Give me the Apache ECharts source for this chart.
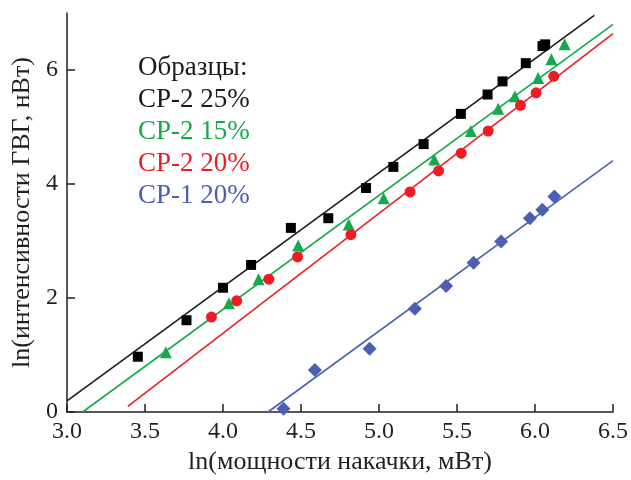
<!DOCTYPE html>
<html><head><meta charset="utf-8">
<script src="https://cdn.jsdelivr.net/npm/echarts@6/dist/echarts.min.js"></script>
<style>html,body{margin:0;padding:0;background:#fff}#c{width:631px;height:480px}</style>
</head><body><div id="c"></div>
<script>
const xTicks = [3.0, 3.5, 4.0, 4.5, 5.0, 5.5, 6.0, 6.5];
const yTicks = [0, 2, 4, 6];
const legendTitle = 'Образцы:';
const seriesNames = ['CP-2 25%', 'CP-2 15%', 'CP-2 20%', 'CP-1 20%'];
const seriesColors = ['#1a1a1a', '#17a84b', '#ee1d25', '#4a60b2'];

const black = [[3.454,0.97],[3.766,1.61],[4.00,2.18],[4.18,2.58],[4.435,3.23],[4.675,3.40],[4.917,3.93],[5.092,4.30],[5.286,4.70],[5.525,5.23],[5.696,5.57],[5.792,5.80],[5.941,6.12],[6.048,6.42],[6.065,6.45]];
const green = [[3.634,1.05],[4.038,1.91],[4.228,2.33],[4.482,2.92],[4.806,3.29],[5.03,3.75],[5.354,4.43],[5.589,4.93],[5.764,5.32],[5.871,5.54],[6.02,5.86],[6.105,6.19],[6.19,6.45]];
const red = [[3.926,1.665],[4.088,1.95],[4.294,2.33],[4.478,2.72],[4.82,3.11],[5.199,3.86],[5.382,4.23],[5.527,4.54],[5.70,4.93],[5.907,5.38],[6.007,5.60],[6.12,5.89]];
const blue = [[4.388,0.055],[4.589,0.735],[4.94,1.11],[5.23,1.81],[5.43,2.21],[5.606,2.62],[5.783,2.99],[5.967,3.40],[6.047,3.55],[6.124,3.78]];

const blackFit = [[3.0,0.195],[6.38,6.96]];
const greenFit = [[3.10,0.0],[6.5,6.80]];
const redFit = [[3.39,0.10],[6.5,6.64]];
const blueFit = [[4.288,0.0],[6.5,4.41]];

const font = 'Liberation Serif, Times New Roman, serif';
const ink = '#231f20';
const chart = echarts.init(document.getElementById('c'), null, {renderer:'canvas'});

function scat(name, data, color, symbol, size){
  return {type:'scatter', name, data, symbol, symbolSize:size, itemStyle:{color, opacity:1}, z:3, silent:true};
}
function fit(data, color){
  return {type:'line', data, symbol:'none', lineStyle:{color, width:1.6}, z:2, silent:true};
}

const legendTexts = [legendTitle].concat(seriesNames);
const legendColors = ['#1a1a1a'].concat(seriesColors);

chart.setOption({
  animation:false,
  backgroundColor:'#fff',
  grid:{left:67, right:17, top:13, bottom:66.5, containLabel:false},
  xAxis:{
    type:'value', min:3.0, max:6.5, interval:0.5,
    name:'ln(мощности накачки, мВт)', nameLocation:'middle', nameGap:37,
    nameTextStyle:{fontFamily:font, fontSize:26, color:ink},
    axisLine:{lineStyle:{color:ink, width:1.5}},
    axisTick:{inside:true, length:8, lineStyle:{color:ink, width:1.5}},
    axisLabel:{fontFamily:font, fontSize:24, color:ink, margin:8,
      formatter:v=>v.toFixed(1)},
    splitLine:{show:false}
  },
  yAxis:{
    type:'value', min:0, max:7, interval:1,
    name:'ln(интенсивности ГВГ, нВт)', nameLocation:'middle', nameGap:32,
    nameTextStyle:{fontFamily:font, fontSize:26, color:ink},
    axisLine:{show:true, lineStyle:{color:ink, width:1.5}},
    axisTick:{inside:true, length:8, customValues:yTicks, lineStyle:{color:ink, width:1.5}},
    axisLabel:{fontFamily:font, fontSize:24, color:ink, margin:9, customValues:yTicks},
    splitLine:{show:false}
  },
  graphic: legendTexts.map((t,i)=>({
    type:'text', left:138, top:54 + i*32,
    style:{text:t, fill:legendColors[i], font:'27px ' + font}
  })),
  series:[
    fit(blackFit, seriesColors[0]),
    fit(greenFit, seriesColors[1]),
    fit(redFit, seriesColors[2]),
    fit(blueFit, seriesColors[3]),
    scat(seriesNames[0], black, '#000', 'rect', 10),
    scat(seriesNames[1], green, seriesColors[1], 'triangle', 12),
    scat(seriesNames[2], red, seriesColors[2], 'circle', 11),
    scat(seriesNames[3], blue, seriesColors[3], 'diamond', 14)
  ]
});
</script></body></html>
